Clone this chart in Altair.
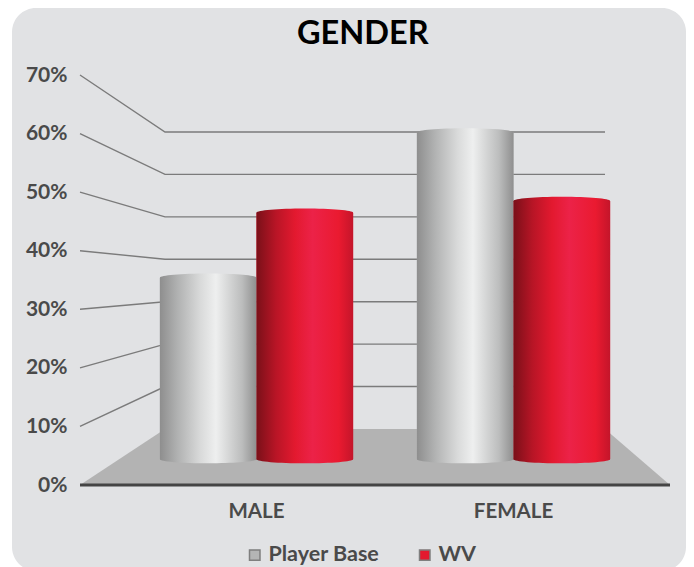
import altair as alt
import pandas as pd

categories = ["MALE", "FEMALE"]
series_names = ["Player Base", "WV"]
player_base = [35.4, 60.2]
wv = [46.5, 48.5]
ticks = [0, 10, 20, 30, 40, 50, 60, 70]
chart_title = "GENDER"

FONT = "Lato"
W, H = 678, 559
PX_PER_PCT = 410 / 70
Y0 = 485
WALL_Y0, WALL_STEP = 429, 42.43
FRONT_L, WALL_L, WALL_R, FRONT_R = 80, 165, 605, 670
CYL_BASE = 4.4


def pct(py):
    return (Y0 - py) / PX_PER_PCT


yscale = alt.Scale(domain=[pct(8 + H), pct(8)], nice=False, zero=False)
xq = alt.Scale(domain=[8, 8 + W], range=[0, W], nice=False, zero=False)
xband = alt.Scale(domain=categories, range=[120, 634], paddingInner=0, paddingOuter=0)
xoff = alt.Scale(domain=series_names, paddingInner=0, paddingOuter=0.33)

y_axis = alt.Axis(
    values=ticks,
    labelExpr="datum.value + '%'",
    title=None,
    domain=False,
    ticks=False,
    grid=False,
    offset=-59,
    labelPadding=0,
    labelFont=FONT,
    labelFontSize=21,
    labelFontWeight="bold",
    labelColor="#4a4a4a",
    zindex=1,
)

rows = []
for i, c in enumerate(categories):
    rows.append({"category": c, "series": series_names[0], "value": player_base[i], "base": CYL_BASE})
    rows.append({"category": c, "series": series_names[1], "value": wv[i], "base": CYL_BASE})
df = pd.DataFrame(rows)

wall = []
for t in ticks[1:]:
    wy = pct(WALL_Y0 - WALL_STEP * t / 10)
    wall += [
        {"tick": t, "x": FRONT_L, "y": t},
        {"tick": t, "x": WALL_L, "y": wy},
        {"tick": t, "x": WALL_R, "y": wy},
    ]
wall = pd.DataFrame(wall)

floor = pd.DataFrame(
    {
        "x": [FRONT_L, WALL_L, WALL_R, FRONT_R],
        "y": [0, pct(WALL_Y0), pct(WALL_Y0), 0],
        "y2": [0, 0, 0, 0],
    }
)

panel_df = pd.DataFrame({"x": [12], "x2": [8 + W], "y": [pct(8)], "y2": [pct(8 + H + 4)]})

y_f = lambda f: alt.Y(f, scale=yscale, axis=y_axis)

panel = (
    alt.Chart(panel_df)
    .mark_rect(fill="#e1e2e4", cornerRadius=24, clip=True)
    .encode(x=alt.X("x:Q", scale=xq, axis=None), x2="x2:Q", y=y_f("y:Q"), y2="y2:Q")
)

wall_lines = (
    alt.Chart(wall)
    .mark_line(color="#7b7b7b", strokeWidth=1.4)
    .encode(
        x=alt.X("x:Q", scale=xq, axis=None),
        y=y_f("y:Q"),
        detail="tick:N",
        order="x:Q",
    )
)

floor_area = (
    alt.Chart(floor)
    .mark_area(color="#b3b3b3", opacity=1)
    .encode(x=alt.X("x:Q", scale=xq, axis=None), y=y_f("y:Q"), y2="y2:Q")
)

baseline = (
    alt.Chart(floor.iloc[[0, 3]])
    .mark_line(color="#444444", strokeWidth=3)
    .encode(x=alt.X("x:Q", scale=xq, axis=None), y=y_f("y2:Q"))
)

grey_grad = alt.Gradient(
    gradient="linear", x1=0, x2=1, y1=0, y2=0,
    stops=[
        alt.GradientStop(offset=0, color="#8e8e8e"),
        alt.GradientStop(offset=0.18, color="#b0b1b1"),
        alt.GradientStop(offset=0.42, color="#d9dada"),
        alt.GradientStop(offset=0.58, color="#eeefef"),
        alt.GradientStop(offset=0.85, color="#bcbdbd"),
        alt.GradientStop(offset=1, color="#8f8f8f"),
    ],
)
red_grad = alt.Gradient(
    gradient="linear", x1=0, x2=1, y1=0, y2=0,
    stops=[
        alt.GradientStop(offset=0, color="#7a1019"),
        alt.GradientStop(offset=0.2, color="#b81526"),
        alt.GradientStop(offset=0.4, color="#e3192f"),
        alt.GradientStop(offset=0.58, color="#ec2248"),
        alt.GradientStop(offset=0.85, color="#ea1a30"),
        alt.GradientStop(offset=1, color="#c4152a"),
    ],
)

ELLIPSE = "M-1,0A1,0.085,0,1,0,1,0A1,0.085,0,1,0,-1,0Z"
x_plain = alt.X("category:N", scale=xband, axis=None)
x_axis = alt.X(
    "category:N",
    scale=xband,
    axis=alt.Axis(
        title=None, domain=False, ticks=False, grid=False, labelAngle=0,
        offset=-66, labelPadding=0, labelFont=FONT, labelFontSize=20.5,
        labelFontWeight="bold", labelColor="#4a4a4a", zindex=1,
    ),
)
x_o = alt.XOffset("series:N", scale=xoff)

under = (
    alt.Chart(df)
    .mark_bar()
    .encode(
        x=x_axis, xOffset=x_o, y=y_f("value:Q"), y2="base:Q",
        color=alt.Color(
            "series:N",
            scale=alt.Scale(domain=series_names, range=["#b4b5b5", "#e3192f"]),
            legend=alt.Legend(
                title=None, orient="none", legendX=236, legendY=536,
                direction="horizontal", symbolType="square", symbolSize=110,
                labelFont=FONT, labelFontSize=21.5, labelFontWeight="bold",
                labelColor="#4a4a4a", columnPadding=34, labelOffset=3,
                symbolStrokeColor="#7f7f7f",
            ),
        ),
    )
)

layers = [panel, wall_lines, floor_area, baseline, under]
for name, grad in zip(series_names, [grey_grad, red_grad]):
    d = df[df.series == name]
    base_cap = alt.Chart(d).mark_point(
        shape=ELLIPSE, size=96.6**2, filled=True, fill=grad, opacity=1
    ).encode(x=x_plain, xOffset=x_o, y=y_f("base:Q"))
    body = alt.Chart(d).mark_bar(fill=grad).encode(x=x_plain, xOffset=x_o, y=y_f("value:Q"), y2="base:Q")
    top_cap = alt.Chart(d).mark_point(
        shape=ELLIPSE, size=96.6**2, filled=True, fill=grad, opacity=1
    ).encode(x=x_plain, xOffset=x_o, y=y_f("value:Q"))
    layers += [base_cap, body, top_cap]

chart = (
    alt.layer(*layers)
    .resolve_scale(x="independent")
    .properties(
        width=W,
        height=H,
        padding=0,
        autosize=alt.AutoSizeParams(type="none"),
        title=alt.TitleParams(
            chart_title, anchor="start", dx=289, offset=-42, font=FONT, fontSize=32.5,
            fontWeight="bold", color="#000000",
        ),
        background="white",
    )
    .configure_view(stroke=None)
)
chart.save("out.html", embed_options={"renderer": "svg", "actions": False})
